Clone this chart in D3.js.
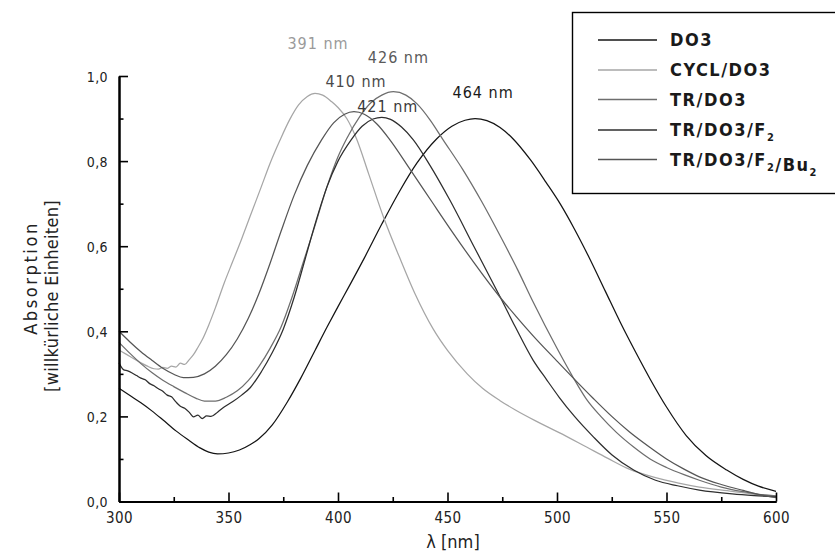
<!DOCTYPE html>
<html>
<head>
<meta charset="utf-8">
<script src="https://cdn.jsdelivr.net/npm/d3@7"></script>
<style>
  html, body { margin: 0; padding: 0; background: #fff; }
  svg { display: block; }
</style>
</head>
<body>
<svg id="chart" width="835" height="554"></svg>
<script>
// ---------------- data ----------------
const seriesNames = ["DO3", "CYCL/DO3", "TR/DO3", "TR/DO3/F2", "TR/DO3/F2/Bu2"];

const DO3 = [[300,0.266],[305,0.249],[310,0.232],[315,0.213],[320,0.192],[326,0.166],[331.6,0.145],[337,0.126],[341,0.116],[345,0.112],[350,0.114],[355,0.121],[360,0.134],[364,0.148],[370,0.18],[377,0.235],[383,0.29],[389.5,0.355],[395,0.41],[400,0.458],[405,0.505],[412,0.572],[420,0.652],[428,0.728],[436,0.795],[445,0.852],[452,0.882],[458,0.896],[462.6,0.9],[468,0.895],[474,0.879],[480,0.852],[488,0.802],[495,0.75],[501.4,0.7],[508,0.64],[515,0.57],[522,0.495],[529,0.42],[536,0.35],[542.5,0.288],[550,0.222],[559,0.155],[568,0.108],[577.5,0.074],[585,0.052],[592,0.036],[600,0.024]];

const CYCL_DO3 = [[300,0.356],[303,0.347],[306,0.338],[310,0.326],[313,0.318],[316,0.312],[318,0.311],[320,0.315],[322,0.313],[324,0.318],[326,0.316],[328,0.325],[330,0.322],[332,0.333],[334,0.345],[336,0.362],[338,0.38],[341,0.415],[344,0.455],[348,0.513],[352,0.565],[356,0.617],[360,0.672],[365,0.74],[369,0.795],[373.5,0.849],[378,0.898],[382,0.932],[386,0.952],[389.5,0.959],[393,0.955],[397,0.94],[400,0.926],[404,0.9],[408.5,0.852],[414,0.77],[421,0.665],[428,0.575],[435,0.49],[443.5,0.405],[450,0.355],[459,0.3],[466,0.266],[474,0.237],[481,0.215],[490,0.19],[501,0.162],[513.5,0.128],[523,0.102],[533,0.076],[545,0.056],[555,0.044],[565,0.034],[580,0.024],[590,0.017],[600,0.012]];

const TR_DO3 = [[300,0.374],[305,0.348],[310,0.324],[315,0.303],[320,0.285],[325,0.27],[330,0.256],[335,0.243],[339,0.236],[344,0.236],[349,0.245],[354,0.26],[359,0.284],[364,0.318],[369,0.36],[374,0.41],[379,0.48],[384,0.56],[389,0.64],[395,0.74],[400,0.81],[404,0.853],[410,0.905],[415,0.937],[420,0.955],[425.3,0.963],[431,0.955],[436,0.935],[442,0.897],[448,0.85],[457,0.78],[465.6,0.705],[475,0.615],[482,0.545],[489,0.47],[500,0.36],[507,0.295],[513.5,0.24],[520,0.2],[527,0.163],[535,0.128],[542.5,0.1],[550,0.08],[558,0.063],[565,0.05],[575,0.034],[585,0.023],[592,0.017],[600,0.013]];

const TR_DO3_F2 = [[300,0.326],[302,0.31],[304,0.307],[306,0.302],[308,0.296],[310,0.29],[312,0.286],[314,0.277],[316,0.272],[318,0.265],[320,0.259],[322,0.25],[324,0.246],[326,0.234],[328,0.224],[330,0.219],[332,0.21],[334,0.199],[336,0.203],[338,0.195],[340,0.201],[342,0.2],[345,0.21],[348,0.222],[352,0.235],[356,0.25],[360,0.268],[365,0.305],[370,0.35],[375,0.405],[380,0.48],[385,0.57],[390,0.66],[395,0.74],[400,0.8],[406,0.85],[411,0.882],[416,0.899],[420,0.903],[424,0.898],[429,0.88],[434.4,0.85],[442,0.79],[451,0.709],[462,0.6],[474,0.481],[481,0.41],[489,0.333],[495.3,0.286],[501,0.245],[508,0.2],[516.6,0.152],[525,0.11],[535,0.074],[545,0.05],[555,0.037],[565,0.027],[580,0.018],[590,0.014],[600,0.011]];

const TR_DO3_F2_Bu2 = [[300,0.4],[305,0.375],[310,0.352],[315,0.332],[320,0.313],[325,0.299],[329.4,0.291],[334,0.292],[339,0.3],[344,0.318],[349,0.345],[354,0.382],[359,0.43],[364,0.49],[369,0.56],[374,0.635],[380,0.72],[386,0.79],[392.5,0.85],[398,0.89],[403,0.91],[407.3,0.916],[412,0.91],[418,0.886],[423.7,0.85],[433,0.78],[442.8,0.705],[452,0.635],[462,0.562],[474,0.48],[481,0.437],[489,0.39],[500,0.33],[508,0.287],[516.6,0.242],[525,0.2],[533,0.164],[542.5,0.127],[550,0.1],[558,0.076],[565,0.058],[575,0.04],[585,0.026],[592,0.017],[600,0.009]];

const seriesData = [DO3, CYCL_DO3, TR_DO3, TR_DO3_F2, TR_DO3_F2_Bu2];
const peakWavelengths = [462.6, 389.5, 425.3, 420, 407.3];
const peakLabels = ["464 nm", "391 nm", "426 nm", "421 nm", "410 nm"];

const xMajorTicks = [300, 350, 400, 450, 500, 550, 600];
const xMinorTicks = [325, 375, 425, 475, 525, 575];
const yMajorTicks = [0, 0.2, 0.4, 0.6, 0.8, 1.0];
const yMinorTicks = [0.1, 0.3, 0.5, 0.7, 0.9];
const yTickLabels = ["0,0", "0,2", "0,4", "0,6", "0,8", "1,0"];

// ---------------- styling / layout ----------------
const colors = ["#141414", "#a6a6a6", "#6e6e6e", "#2e2e2e", "#555555"];
const labelColors = ["#1a1a1a", "#9a9a9a", "#5a5a5a", "#3a3a3a", "#4a4a4a"];
// label offsets relative to peak (dx, dy in px)
const labelOffsets = [[8, -26], [3, -50], [5, -35], [6, -11], [2, -31]];

const svg = d3.select("#chart");
const mLeft = 119, mRight = 776, mTop = 76, mBottom = 501.5;

const x = d3.scaleLinear().domain([300, 600]).range([mLeft, mRight]);
const y = d3.scaleLinear().domain([0, 1]).range([mBottom, mTop]);

// curves
const line = d3.line().x(d => x(d[0])).y(d => y(d[1])).curve(d3.curveMonotoneX);
svg.append("g").selectAll("path").data(seriesData).join("path")
  .attr("d", line)
  .attr("fill", "none")
  .attr("stroke", (d, i) => colors[i])
  .attr("stroke-width", 1.25)
  .attr("stroke-linejoin", "round");

// axes
const fontCond = "'DejaVu Sans Condensed', 'DejaVu Sans', sans-serif";

const xAxis = svg.append("g").attr("transform", `translate(0,${mBottom})`)
  .call(d3.axisBottom(x).tickValues(xMajorTicks).tickSizeInner(-9).tickSizeOuter(0).tickPadding(11).tickFormat(d3.format("d")));
const xMinor = svg.append("g").attr("transform", `translate(0,${mBottom})`)
  .call(d3.axisBottom(x).tickValues(xMinorTicks).tickSizeInner(-4.5).tickSizeOuter(0).tickFormat(""));
const yAxis = svg.append("g").attr("transform", `translate(${mLeft},0)`)
  .call(d3.axisLeft(y).tickValues(yMajorTicks).tickSizeInner(-9).tickSizeOuter(0).tickPadding(11).tickFormat((d, i) => yTickLabels[i]));
const yMinor = svg.append("g").attr("transform", `translate(${mLeft},0)`)
  .call(d3.axisLeft(y).tickValues(yMinorTicks).tickSizeInner(-4.5).tickSizeOuter(0).tickFormat(""));

[xAxis, xMinor, yAxis, yMinor].forEach(g => {
  g.select(".domain").attr("stroke", "#000").attr("stroke-width", 2);
  g.selectAll(".tick line").attr("stroke", "#000").attr("stroke-width", 1.6);
});
xAxis.selectAll("text").attr("font-family", fontCond).attr("font-size", 15).attr("letter-spacing", "0.4px").attr("fill", "#222");
yAxis.selectAll("text").attr("font-family", fontCond).attr("font-size", 14).attr("letter-spacing", "0.4px").attr("fill", "#222").attr("dy", "0.36em");

// axis titles
svg.append("text").attr("x", 453).attr("y", 548)
  .attr("text-anchor", "middle").attr("font-family", fontCond).attr("font-size", 18).attr("fill", "#222")
  .text("λ [nm]");
svg.append("text").attr("transform", "translate(37,278) rotate(-90)")
  .attr("text-anchor", "middle").attr("font-family", fontCond).attr("font-size", 18).attr("letter-spacing", "2.6px").attr("fill", "#222")
  .text("Absorption");
svg.append("text").attr("transform", "translate(58,296) rotate(-90)")
  .attr("text-anchor", "middle").attr("font-family", fontCond).attr("font-size", 18).attr("letter-spacing", "0.3px").attr("fill", "#222")
  .text("[willkürliche Einheiten]");

// peak labels
svg.append("g").selectAll("text").data(peakLabels).join("text")
  .attr("x", (d, i) => x(peakWavelengths[i]) + labelOffsets[i][0])
  .attr("y", (d, i) => y(seriesData[i].find(p => p[0] === peakWavelengths[i])[1]) + labelOffsets[i][1])
  .attr("dy", "0.36em")
  .attr("text-anchor", "middle")
  .attr("font-family", fontCond).attr("font-size", 16).attr("letter-spacing", "1px")
  .attr("fill", (d, i) => labelColors[i])
  .text(d => d);

// legend
const lg = svg.append("g");
lg.append("rect").attr("x", 572.5).attr("y", 12.5).attr("width", 280).attr("height", 181)
  .attr("fill", "#fff").attr("stroke", "#000").attr("stroke-width", 1.4);
const rowY = [40, 70, 99.5, 130, 159.5];
seriesNames.forEach((name, i) => {
  lg.append("line").attr("x1", 598).attr("x2", 657).attr("y1", rowY[i]).attr("y2", rowY[i])
    .attr("stroke", colors[i]).attr("stroke-width", 1.4);
  const t = lg.append("text").attr("x", 670).attr("y", rowY[i]).attr("dy", "0.36em")
    .attr("font-family", fontCond).attr("font-size", 18).attr("font-weight", "bold")
    .attr("letter-spacing", "1.5px").attr("fill", "#1a1a1a");
  // render "2" following F/Bu as subscript
  const parts = name.split(/(?<=F|Bu)2/);
  parts.forEach((p, k) => {
    t.append("tspan").text(p);
    if (k < parts.length - 1) {
      t.append("tspan").attr("font-size", 11).attr("dy", "5").text("2");
      t.append("tspan").attr("dy", "-5").text("");
    }
  });
});
</script>
</body>
</html>
